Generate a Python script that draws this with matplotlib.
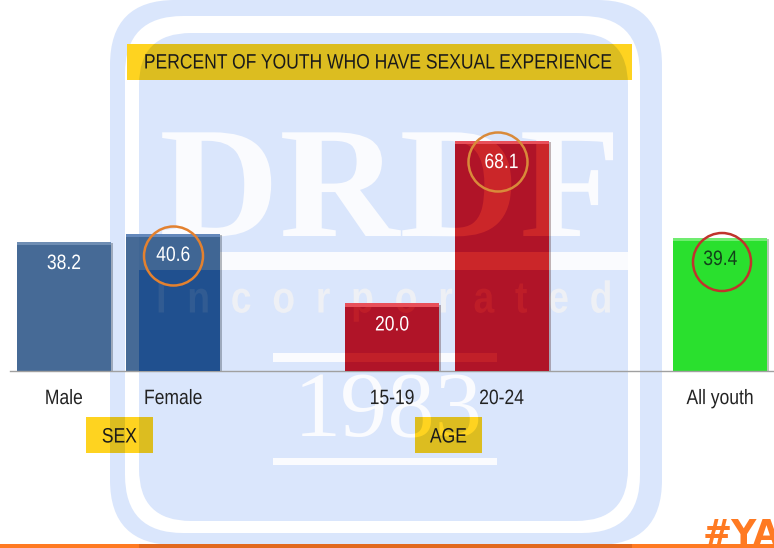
import matplotlib
matplotlib.use("Agg")
import matplotlib.pyplot as plt
import matplotlib.patheffects as pe
from matplotlib.patches import Circle, FancyBboxPatch, Rectangle
from matplotlib.transforms import Affine2D

plt.rcParams['font.family'] = ['Liberation Sans', 'DejaVu Sans']

# data
categories = ['Male', 'Female', '15-19', '20-24', 'All youth']
positions = [0, 1, 3, 4, 6]
values = [38.2, 40.6, 20.0, 68.1, 39.4]
value_labels = ['38.2', '40.6', '20.0', '68.1', '39.4']
title = 'PERCENT OF YOUTH WHO HAVE SEXUAL EXPERIENCE'

# colours: plain, then seen through the blue panel of the watermark
bar_colors = ['#466a96', '#466a96', '#d02a2a', '#d02a2a', '#2ae02e']
bar_dark = ['#466a96', '#20508f', '#b01428', '#b01428', '#2ae02e']
bar_light = ['#6e8db3', '#6488bb', '#e8505a', '#e8505a', '#70ec70']
label_colors = ['white', 'white', 'white', 'white', '#12401a']
WM_BLUE = '#dae6fc'
WM_WHITE = '#fafbfe'
YELLOW = '#fed320'
YELLOW_DARK = '#dcbd20'
ORANGE = '#ff7a22'
ORANGE_DARK = '#e2691f'
WM_NAME = 'DRDF'
WM_WORD = 'I  n  c  o  r  p  o  r  a  t  e  d'
WM_YEAR = '1983'

W, H = 774, 548
fig = plt.figure(figsize=(W / 100, H / 100), dpi=100, facecolor='white')


class Squeeze(pe.AbstractPathEffect):
    # narrow a text around its own centre, there is no condensed font installed
    def __init__(self, sx=0.84):
        super().__init__()
        self.sx = sx

    def draw_path(self, renderer, gc, tpath, affine, rgbFace=None):
        w = tpath.get_extents().x1
        t = Affine2D().scale(self.sx, 1).translate(w * (1 - self.sx) / 2, 0) + affine
        renderer.draw_path(gc, tpath, t, rgbFace)


narrow = [Squeeze()]

# background layer in pixel coordinates
bg = fig.add_axes([0, 0, 1, 1], zorder=0)
bg.set_xlim(0, W)
bg.set_ylim(H, 0)
bg.axis('off')


def panel(x0, y0, x1, y1, rad, color):
    p = FancyBboxPatch((x0 + rad, y0 + rad), x1 - x0 - 2 * rad, y1 - y0 - 2 * rad,
                       boxstyle="round,pad=%d,rounding_size=%d" % (rad, rad),
                       facecolor=color, edgecolor='none', transform=bg.transData)
    bg.add_patch(p)
    return p


def wm_name(target, color, **kw):
    return target.text(390, 198, WM_NAME, color=color, fontsize=114, family='Liberation Serif',
                       fontweight='bold', ha='center', va='center',
                       path_effects=[Squeeze(1.05)], **kw)


def wm_word(target, color, **kw):
    return target.text(385, 301, WM_WORD, color=color, fontsize=32, family='Liberation Sans',
                       fontweight='bold', ha='center', va='center', path_effects=narrow, **kw)


def wm_year(target, color, **kw):
    return target.text(388, 414, WM_YEAR, color=color, fontsize=68, family='Liberation Serif',
                       ha='center', va='center', **kw)


panel(110, 0, 662, 545, 65, WM_BLUE)
panel(125, 16, 640, 533, 58, 'white')
inner = panel(139, 33, 628, 521, 52, WM_BLUE)

# watermark lettering
wm_name(bg, WM_WHITE)
bg.add_patch(Rectangle((139, 252), 489, 18, facecolor=WM_WHITE, edgecolor='none'))
wm_word(bg, '#eef0f5')
bg.add_patch(Rectangle((273, 353), 224, 9, facecolor=WM_WHITE, edgecolor='none'))
wm_year(bg, WM_WHITE)
bg.add_patch(Rectangle((273, 458), 224, 7, facecolor=WM_WHITE, edgecolor='none'))

# bars, baseline at y=371 px, 3.377 px per percent
ax = fig.add_axes([10 / W, (H - 371) / H, 764 / W, 371 / H], zorder=1)
ax.patch.set_alpha(0)
ax.set_xlim(-0.4936, 6.49)
ax.set_ylim(0, 371 / 3.377)
for s in ['top', 'left', 'right']:
    ax.spines[s].set_visible(False)
ax.spines['bottom'].set_color('#a0a0a0')
ax.spines['bottom'].set_linewidth(1.0)
ax.set_yticks([])
ax.set_xticks(positions)
ax.set_xticklabels(categories, fontsize=15, color='#222222')
ax.tick_params(axis='x', length=0, pad=13)
for lab in ax.get_xticklabels():
    lab.set_path_effects(narrow)

bars = ax.bar(positions, values, width=0.858, color=bar_colors, zorder=2)
for b in bars:
    b.set_path_effects([pe.SimplePatchShadow(offset=(1.5, -1), alpha=0.3), pe.Normal()])
dark = ax.bar(positions, values, width=0.858, color=bar_dark, zorder=3)
for b in dark:
    b.set_clip_path(inner)

# watermark showing through the bars, in the plain colour of each bar
for b, c in zip(bars, bar_colors):
    for y0, h in [(252, 18), (353, 9), (458, 7)]:
        x0 = 139 if h == 18 else 273
        w = 489 if h == 18 else 224
        r = Rectangle((x0, y0), w, h, facecolor=c, edgecolor='none', alpha=0.85 if h == 18 else 0.55,
                      transform=bg.transData, zorder=4)
        ax.add_patch(r)
        r.set_clip_path(b)
    t = wm_word(ax, c, alpha=0.45, transform=bg.transData, zorder=4, clip_on=True)
    t.set_clip_path(b)
t = wm_name(ax, bar_colors[3], alpha=0.85, transform=bg.transData, zorder=4, clip_on=True)
t.set_clip_path(bars[3])
r = Rectangle((139, 234), 489, 18, facecolor=bar_colors[1], edgecolor='none', alpha=0.85,
              transform=bg.transData, zorder=4)
ax.add_patch(r)
r.set_clip_path(bars[1])

ax.bar(positions, [1.0] * len(values), bottom=[v - 1.0 for v in values], width=0.858,
       color=bar_light, zorder=5)
for x, v, t, c in zip(positions, values, value_labels, label_colors):
    ax.annotate(t, (x, v), xytext=(0, -15.5), textcoords='offset points', ha='center', va='center',
                color=c, fontsize=15, zorder=6, path_effects=narrow)

# overlay layer: label boxes, circles, footer
top = fig.add_axes([0, 0, 1, 1], zorder=2)
top.patch.set_alpha(0)
top.set_xlim(0, W)
top.set_ylim(H, 0)
top.axis('off')

for (x, y, w, h) in [(127, 44, 505, 36), (86, 417, 67, 36), (415, 417, 67, 36)]:
    box = Rectangle((x, y), w, h, facecolor=YELLOW, edgecolor='none')
    top.add_patch(box)
    d = Rectangle((x, y), w, h, facecolor=YELLOW_DARK, edgecolor='none')
    top.add_patch(d)
    d.set_clip_path(inner)
top.add_patch(Rectangle((110, 417), 15, 36, facecolor=YELLOW_DARK, edgecolor='none'))
t = wm_year(top, YELLOW, clip_on=True)
t.set_clip_path(box)

top.text(379, 63, title, fontsize=15, color='#1a1a1a', ha='center', va='center', path_effects=narrow)
top.text(119.5, 437, 'SEX', fontsize=15, color='#1a1a1a', ha='center', va='center', path_effects=narrow)
top.text(448.5, 437, 'AGE', fontsize=15, color='#1a1a1a', ha='center', va='center', path_effects=narrow)

top.add_patch(Circle((173.5, 256), 29.5, fill=False, edgecolor='#e3812f', linewidth=1.8))
top.add_patch(Circle((498, 162), 29.5, fill=False, edgecolor='#d98a3a', linewidth=1.8))
top.add_patch(Circle((722, 262), 29, fill=False, edgecolor='#c0342c', linewidth=1.8))

top.add_patch(Rectangle((0, 544), W, 4, facecolor=ORANGE, edgecolor='none'))
top.add_patch(Rectangle((139, 544), 493, 4, facecolor=ORANGE_DARK, edgecolor='none'))
top.text(703, 545, '#YA', fontsize=25, fontweight='bold', color=ORANGE, family='DejaVu Sans',
         ha='left', va='baseline')

plt.savefig('out.png', dpi=100)
